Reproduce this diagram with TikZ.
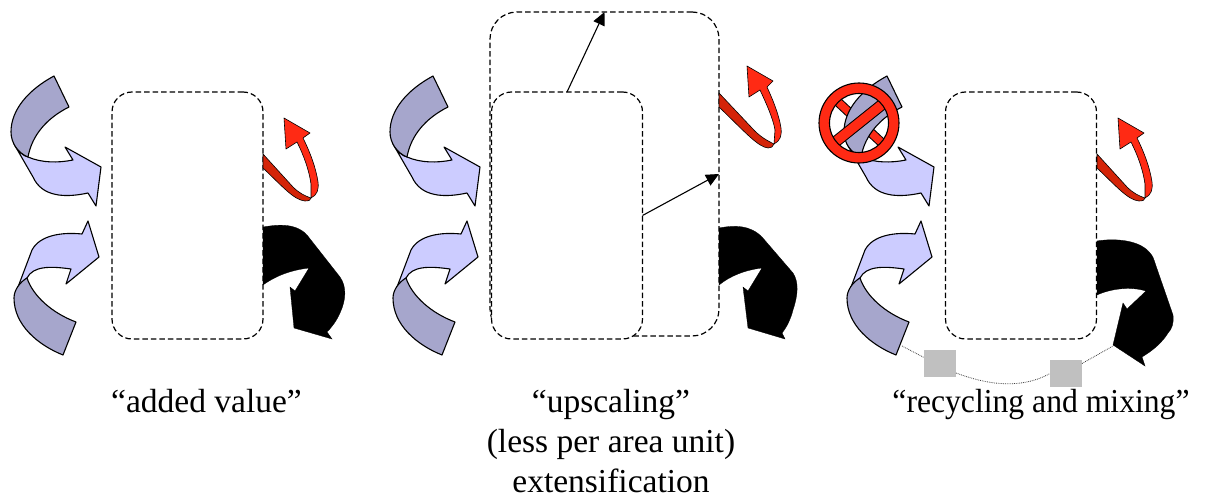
\documentclass[tikz,border=0pt]{standalone}
\usepackage{fontspec}
\setmainfont{Liberation Serif}
\usetikzlibrary{arrows.meta}
\definecolor{lightarrow}{HTML}{CCCCFF}
\definecolor{darkarrow}{HTML}{A6A6CC}
\definecolor{redarrow}{HTML}{FF2A14}
\definecolor{deepred}{HTML}{D42408}
\definecolor{squaregray}{HTML}{C0C0C0}
\tikzset{
  boxsmall/.style={draw=black,line width=1.2pt,dash pattern=on 5.5pt off 3pt,rounded corners=20pt,fill=white,minimum width=151pt,minimum height=247pt,inner sep=0pt,outer sep=0pt},
  boxbig/.style={boxsmall,rounded corners=27pt,minimum width=229pt,minimum height=324pt},
  lightshape/.style={draw=black,line width=1.1pt,fill=lightarrow,line join=round},
  darkshape/.style={draw=black,line width=1.1pt,fill=darkarrow,line join=round},
  redshape/.style={draw=black,line width=0.6pt,fill=redarrow,line join=round},
  deepshape/.style={draw=black,line width=0.6pt,fill=deepred,line join=round},
  blackshape/.style={fill=black,draw=black,line width=0.3pt},
  growth/.style={draw=black,line width=1.1pt,-{Triangle[length=13pt,width=12pt]}},
  caption/.style={font=\fontsize{33.5}{40}\selectfont,align=center,inner sep=0pt,anchor=north},
  squarebox/.style={fill=squaregray,minimum width=32pt,minimum height=27pt,inner sep=0pt,outer sep=0pt},
  linkline/.style={draw=black!75,line width=0.8pt,densely dotted}
}
\newcommand{\upperlight}{\draw[lightshape] (14,144) .. controls (18,152) and (24,156) .. (28,157) .. controls (42,163) and (58,163) .. (73,160) -- (65,147) -- (101,167) -- (96,206) -- (88,193) .. controls (65,198) and (42,197) .. (33,177) -- cycle;}
\newcommand{\upperdark}{\draw[darkshape] (54,76) .. controls (28,90) and (11,110) .. (11,132) .. controls (11,143) and (18,153) .. (28,157) .. controls (32,135) and (47,118) .. (69,107) -- cycle;}
\newcommand{\lowerpair}{%
  \draw[lightshape] (18,287) -- (32,250) .. controls (40,235) and (62,232) .. (82,234) -- (88,221) -- (99,257) -- (66,284) -- (71,269) .. controls (50,266) and (33,266) .. (27,278) -- cycle;
  \draw[darkshape] (27,278) .. controls (33,296) and (52,313) .. (76,322) -- (63,355) .. controls (38,345) and (14,325) .. (14,298) .. controls (14,290) and (20,282) .. (27,278) -- cycle;}
\newcommand{\redpair}{%
  \draw[deepshape] (263,154) -- (293,187) .. controls (299,193) and (305,196) .. (311,198) .. controls (311,200) and (309,201) .. (305,201) .. controls (294,200) and (283,187) .. (263,168) -- cycle;
  \draw[redshape] (311,198) .. controls (317,195) and (319,190) .. (318,182) .. controls (316,168) and (310,152) .. (303,138) -- (310,133) -- (284,118) -- (286,149) -- (297,142) .. controls (304,156) and (309,170) .. (311,184) -- cycle;}
\begin{document}
\begin{tikzpicture}[x=1pt,y=-1pt]
\useasboundingbox (0,0) rectangle (1211,495);
% panel 1
\upperlight \upperdark \lowerpair
\node[boxsmall] (boxa) at (187.5,215.5) {};
\redpair
\draw[blackshape] (263,227) .. controls (275,225) and (295,222) .. (307,235) -- (340,277) .. controls (347,287) and (346,300) .. (340,313) .. controls (337,320) and (332,327) .. (327,332) -- (332,339) -- (294,328) -- (290,287) -- (295,291) -- (309,268) .. controls (292,270) and (277,275) .. (263,285) -- cycle;
% panel 2
\begin{scope}[shift={(379,0)}]
\upperlight \upperdark \lowerpair
\end{scope}
\node[boxbig] (boxouter) at (604.5,174) {};
\node[boxsmall] (boxinner) at (567,215.5) {};
\draw[growth] (boxinner.north) -- (boxouter.north);
\draw[growth] (boxinner.east) -- (boxouter.east);
\draw[deepshape] (719,93) -- (752,128) .. controls (760,137) and (768,141) .. (774,144) .. controls (773,147) and (771,148) .. (768,148) .. controls (758,147) and (745,132) .. (719,107) -- cycle;
\draw[redshape] (774,144) .. controls (780,141) and (782,136) .. (781,128) .. controls (779,115) and (773,100) .. (767,87) -- (773,81) -- (747,66) -- (749,97) -- (760,90) .. controls (766,103) and (773,118) .. (775,130) -- cycle;
\draw[blackshape] (719,228) .. controls (735,225) and (750,225) .. (762,237) -- (793,273) .. controls (799,282) and (798,295) .. (793,310) .. controls (791,318) and (787,327) .. (782,333) -- (785,339) -- (748,328) -- (743,287) -- (748,291) -- (762,268) .. controls (745,270) and (730,276) .. (719,285) -- cycle;
% panel 3
\begin{scope}[shift={(833,0)}]
\upperlight
\end{scope}
\draw[draw=black,line width=9.5pt] (838,102) -- (882,143);
\draw[draw=redarrow,line width=7.5pt] (838,102) -- (882,143);
\begin{scope}[shift={(833,0)}]
\upperdark \lowerpair
\end{scope}
\node[boxsmall] (boxc) at (1021,215.5) {};
\begin{scope}[shift={(834,0)}]
\redpair
\end{scope}
\draw[blackshape] (1097,241) .. controls (1115,238) and (1140,240) .. (1150,253) .. controls (1153,256) and (1154,260) .. (1155,263) -- (1173,315) .. controls (1174,323) and (1172,329) .. (1168,333) .. controls (1162,343) and (1152,351) .. (1142,357) -- (1145,366) -- (1113,345) -- (1123,303) -- (1127,309) -- (1146,291) .. controls (1130,286) and (1110,289) .. (1097,295) -- cycle;
% no sign
\draw[black,line width=11.5pt] (859,123) ++(-38.7:-34) -- ++(-38.7:68);
\draw[redarrow,line width=9.5pt] (859,123) ++(-38.7:-34) -- ++(-38.7:68);
\fill[redarrow,even odd rule,draw=black,line width=1.1pt] (859,123) circle[radius=40] (859,123) circle[radius=29.5];
% link
\coordinate (linkstart) at (902,346);
\coordinate (linkend) at (1113,346);
\node[squarebox] (squarea) at (940,363.5) {};
\node[squarebox] (squareb) at (1066,373.5) {};
\draw[linkline] (linkstart) -- ([yshift=6pt]squarea.west);
\draw[linkline] ([yshift=-9.5pt]squarea.east) .. controls (975,380) and (1015,393) .. (squareb.west);
\draw[linkline] ([yshift=10pt]squareb.east) -- (linkend);
% captions
\node[caption] (capa) at (206.5,389) {“added value”};
\node[caption] (capb) at (611,389) {“upscaling”\\(less per area unit)\\extensification};
\node[caption] (capc) at (1041,389) {\scalebox{0.945}[1]{“recycling and mixing”}};
\end{tikzpicture}
\end{document}
